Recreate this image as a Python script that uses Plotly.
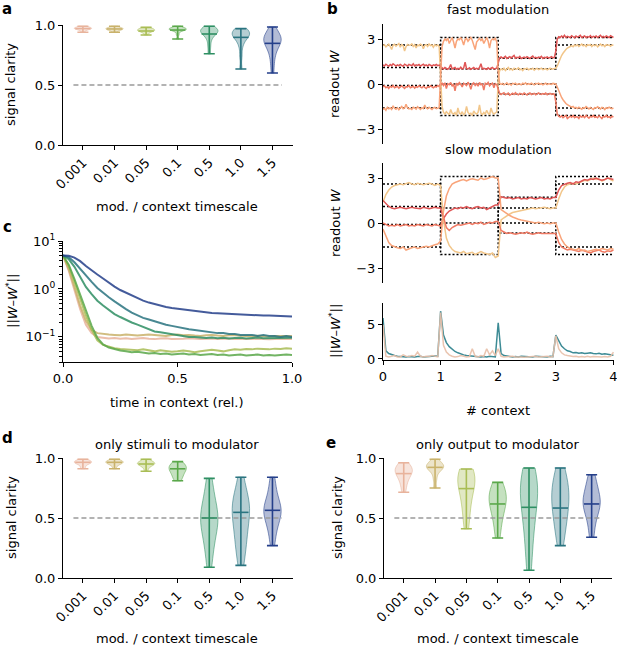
import numpy as np
import plotly.graph_objects as go

W, H = 617, 646

timescales = ['0.001', '0.01', '0.05', '0.1', '0.5', '1.0', '1.5']
ts_colors = ['#e8b39c', '#c9b26b', '#a9bd55', '#5aa84a', '#2e8f63', '#2a7480', '#243f8a']
chance = 0.5

# --- panel a: signal clarity, full model (samples)
clar_a = [
    [0.94, 0.955, 0.96, 0.965, 0.97, 0.97, 0.972, 0.975, 0.978, 0.98, 0.985, 0.99],
    [0.94, 0.952, 0.958, 0.962, 0.965, 0.968, 0.97, 0.973, 0.977, 0.982, 0.99],
    [0.917, 0.935, 0.945, 0.95, 0.953, 0.956, 0.96, 0.963, 0.968, 0.975, 0.98],
    [0.883, 0.92, 0.945, 0.955, 0.96, 0.962, 0.965, 0.968, 0.97, 0.975, 0.98, 0.99],
    [0.76, 0.82, 0.87, 0.9, 0.92, 0.93, 0.94, 0.945, 0.95, 0.955, 0.96, 0.97, 0.98, 0.99],
    [0.633, 0.74, 0.82, 0.86, 0.89, 0.9, 0.91, 0.92, 0.93, 0.935, 0.94, 0.95, 0.96, 0.97],
    [0.60, 0.68, 0.74, 0.78, 0.81, 0.83, 0.85, 0.86, 0.87, 0.88, 0.89, 0.9, 0.91, 0.93, 0.95, 0.983],
]
mid_a = [0.97, 0.967, 0.95, 0.958, 0.925, 0.897, 0.847]

# --- panel d: only stimuli to modulator
clar_d = [
    [0.91, 0.93, 0.95, 0.955, 0.96, 0.965, 0.97, 0.975, 0.98, 0.99],
    [0.91, 0.935, 0.95, 0.955, 0.96, 0.965, 0.97, 0.975, 0.98, 0.99],
    [0.89, 0.92, 0.935, 0.945, 0.95, 0.955, 0.96, 0.965, 0.975, 0.99],
    [0.81, 0.83, 0.85, 0.87, 0.89, 0.9, 0.91, 0.92, 0.93, 0.94, 0.95, 0.97],
    [0.09, 0.2, 0.28, 0.35, 0.4, 0.44, 0.48, 0.5, 0.52, 0.56, 0.6, 0.66, 0.74, 0.83],
    [0.105, 0.2, 0.28, 0.33, 0.38, 0.45, 0.52, 0.55, 0.58, 0.6, 0.62, 0.66, 0.72, 0.84],
    [0.27, 0.36, 0.42, 0.47, 0.5, 0.53, 0.55, 0.57, 0.59, 0.61, 0.64, 0.7, 0.76, 0.84],
]
mid_d = [0.964, 0.964, 0.95, 0.91, 0.5, 0.547, 0.564]

# --- panel e: only output to modulator
clar_e = [
    [0.714, 0.77, 0.81, 0.84, 0.86, 0.88, 0.89, 0.9, 0.91, 0.92, 0.94, 0.96],
    [0.75, 0.82, 0.87, 0.9, 0.91, 0.92, 0.93, 0.935, 0.94, 0.95, 0.97, 0.99],
    [0.41, 0.5, 0.58, 0.64, 0.7, 0.74, 0.78, 0.81, 0.83, 0.85, 0.87, 0.89, 0.908],
    [0.333, 0.42, 0.5, 0.55, 0.59, 0.62, 0.65, 0.68, 0.7, 0.72, 0.75, 0.797],
    [0.064, 0.2, 0.33, 0.43, 0.5, 0.57, 0.63, 0.68, 0.72, 0.76, 0.8, 0.84, 0.88, 0.917],
    [0.27, 0.36, 0.44, 0.5, 0.55, 0.6, 0.64, 0.68, 0.72, 0.76, 0.8, 0.86, 0.917],
    [0.34, 0.44, 0.52, 0.57, 0.6, 0.62, 0.64, 0.66, 0.7, 0.75, 0.8, 0.86],
]
mid_e = [0.87, 0.922, 0.745, 0.617, 0.589, 0.583, 0.617]

# --- panel b: readout weights over 4 contexts
w_colors = ['#f2c68a', '#e05656', '#f07a64', '#f9a47a']  # tan, red, coral, salmon
ctx_edges = [0, 1, 2, 3, 4]
targets = [
    [2.6, -2.1, 1.0, 2.6, 2.6],
    [1.1, 1.0, 1.72, 3.1, 3.1],
    [-0.1, 0.0, -0.67, -2.1, -2.1],
    [-1.6, 3.1, 0.0, -1.6, -1.6],
]

# fast modulation, sampled every 1/40 context
fast_t = np.linspace(0, 4, 161)
fast_w = [
    [2.55, 2.62, 2.48, 2.6, 2.66, 2.5, 2.3, 2.58, 2.65, 2.52,
     2.6, 2.7, 2.45, 2.62, 2.55, 2.2, 2.5, 2.64, 2.58, 2.6,
     2.68, 2.5, 2.62, 2.4, 2.6, 2.55, 2.66, 2.6, 2.35, 2.58,
     2.62, 2.5, 2.66, 2.56, 2.6, 2.45, 2.62, 2.55, 2.6, 2.5,
     0.5, -1.5, -1.9, -2.0, -1.85, -1.95, -2.05, -1.7, -1.95, -2.0,
     -1.9, -2.1, -1.6, -1.95, -2.0, -1.85, -2.05, -1.95, -1.5, -1.9,
     -2.0, -1.95, -2.1, -1.8, -1.95, -2.0, -1.9, -1.4, -1.95, -2.05,
     -1.9, -2.0, -1.75, -1.95, -2.05, -1.6, -1.9, -2.0, -1.95, -1.85,
     0.3, 0.9, 1.0, 0.95, 1.05, 0.9, 1.0, 1.1, 0.95, 1.0,
     0.92, 1.05, 0.98, 1.0, 1.08, 0.95, 1.0, 0.9, 1.02, 1.0,
     1.06, 0.95, 1.0, 0.98, 1.05, 0.92, 1.0, 1.04, 0.96, 1.0,
     1.05, 0.95, 1.0, 1.02, 0.94, 1.0, 1.05, 0.98, 1.0, 1.02,
     1.05, 1.2, 1.45, 1.7, 1.9, 2.05, 2.2, 2.3, 2.4, 2.45,
     2.5, 2.55, 2.48, 2.6, 2.55, 2.62, 2.5, 2.6, 2.66, 2.55,
     2.6, 2.5, 2.62, 2.58, 2.64, 2.5, 2.6, 2.56, 2.62, 2.48,
     2.6, 2.66, 2.55, 2.6, 2.5, 2.62, 2.58, 2.6, 2.52, 2.6,
     2.58],
    [1.28, 1.2, 1.32, 1.25, 1.18, 1.3, 1.22, 1.35, 1.25, 1.2,
     1.28, 1.22, 1.3, 1.26, 1.18, 1.32, 1.24, 1.2, 1.3, 1.25,
     1.22, 1.35, 1.2, 1.28, 1.24, 1.3, 1.2, 1.26, 1.32, 1.22,
     1.28, 1.2, 1.3, 1.25, 1.2, 1.28, 1.24, 1.3, 1.22, 1.26,
     1.15, 1.05, 1.0, 1.1, 1.02, 0.98, 1.08, 1.3, 1.0, 1.05,
     1.1, 0.98, 1.04, 1.0, 1.12, 1.0, 1.06, 1.45, 1.02, 1.0,
     1.08, 0.98, 1.05, 1.1, 1.0, 1.04, 1.0, 1.1, 1.35, 1.0,
     1.05, 1.02, 0.98, 1.08, 1.0, 1.05, 1.1, 1.0, 1.04, 1.06,
     1.4, 1.75, 1.8, 1.72, 1.78, 1.85, 1.7, 1.76, 1.82, 1.74,
     1.8, 1.9, 1.72, 1.78, 1.75, 1.84, 1.7, 1.78, 1.8, 1.74,
     1.82, 1.76, 1.7, 1.8, 1.86, 1.74, 1.78, 1.72, 1.8, 1.76,
     1.84, 1.7, 1.78, 1.75, 1.8, 1.72, 1.78, 1.82, 1.74, 1.78,
     2.2, 3.0, 3.15, 3.1, 3.2, 3.12, 3.25, 3.1, 3.18, 3.14,
     3.1, 3.22, 3.15, 3.08, 3.2, 3.12, 3.18, 3.25, 3.1, 3.15,
     3.2, 3.1, 3.16, 3.12, 3.22, 3.1, 3.18, 3.14, 3.2, 3.1,
     3.16, 3.24, 3.12, 3.18, 3.1, 3.2, 3.15, 3.1, 3.22, 3.14,
     3.1],
    [-0.2, -0.12, -0.25, -0.18, -0.3, -0.15, -0.22, -0.1, -0.25, -0.2,
     -0.15, -0.28, -0.2, -0.12, -0.22, -0.3, -0.18, -0.2, -0.1, -0.25,
     -0.2, -0.15, -0.28, -0.18, -0.22, -0.12, -0.2, -0.26, -0.15, -0.2,
     -0.3, -0.18, -0.22, -0.12, -0.2, -0.25, -0.16, -0.2, -0.1, -0.18,
     -0.05, 0.05, -0.1, 0.08, -0.3, 0.02, -0.05, 0.1, -0.15, 0.0,
     -0.45, 0.05, -0.08, 0.1, -0.02, -0.2, 0.05, 0.0, -0.1, 0.12,
     -0.05, -0.35, 0.0, 0.08, -0.1, 0.02, -0.15, 0.1, -0.05, 0.0,
     -0.4, 0.05, -0.02, 0.1, -0.12, 0.0, 0.06, -0.25, 0.02, -0.05,
     -0.4, -0.62, -0.7, -0.66, -0.58, -0.72, -0.65, -0.6, -0.75, -0.66,
     -0.62, -0.7, -0.58, -0.68, -0.72, -0.62, -0.66, -0.7, -0.6, -0.68,
     -0.74, -0.64, -0.6, -0.7, -0.66, -0.62, -0.72, -0.68, -0.6, -0.66,
     -0.7, -0.64, -0.68, -0.6, -0.72, -0.66, -0.62, -0.7, -0.66, -0.68,
     -1.2, -2.0, -2.15, -2.2, -2.12, -2.25, -2.18, -2.1, -2.3, -2.2,
     -2.15, -2.22, -2.1, -2.25, -2.18, -2.2, -2.3, -2.12, -2.2, -2.15,
     -2.24, -2.1, -2.2, -2.28, -2.16, -2.2, -2.1, -2.22, -2.18, -2.25,
     -2.12, -2.2, -2.3, -2.16, -2.2, -2.1, -2.22, -2.18, -2.26, -2.15,
     -2.2],
    [-1.7, -1.62, -1.75, -1.55, -1.65, -1.6, -1.7, -1.45, -1.62, -1.68,
     -1.58, -1.72, -1.6, -1.5, -1.65, -1.6, -1.35, -1.58, -1.66, -1.62,
     -1.7, -1.55, -1.6, -1.68, -1.52, -1.62, -1.7, -1.58, -1.64, -1.4,
     -1.6, -1.66, -1.55, -1.62, -1.7, -1.6, -1.56, -1.65, -1.6, -1.58,
     0.5, 2.5, 2.85, 3.0, 2.9, 3.05, 2.7, 2.95, 3.1, 2.8,
     2.4, 2.85, 3.0, 2.95, 3.1, 2.9, 2.6, 2.95, 3.05, 2.85,
     3.0, 3.1, 2.9, 2.5, 2.3, 2.8, 2.95, 3.05, 2.9, 3.0,
     2.7, 2.95, 3.1, 2.85, 2.4, 2.9, 3.0, 2.95, 3.05, 2.8,
     0.8, 0.05, -0.02, 0.04, -0.06, 0.0, 0.08, -0.04, 0.02, -0.08,
     0.04, 0.0, 0.06, -0.05, 0.02, 0.0, -0.06, 0.05, 0.0, 0.08,
     -0.04, 0.02, -0.02, 0.05, 0.0, -0.06, 0.04, 0.0, 0.06, -0.02,
     0.02, -0.05, 0.0, 0.06, -0.04, 0.02, 0.0, -0.03, 0.04, 0.0,
     0.0, -0.2, -0.45, -0.7, -0.9, -1.05, -1.2, -1.3, -1.38, -1.45,
     -1.5, -1.55, -1.5, -1.6, -1.56, -1.64, -1.55, -1.6, -1.68, -1.58,
     -1.62, -1.5, -1.6, -1.66, -1.56, -1.62, -1.7, -1.58, -1.6, -1.52,
     -1.62, -1.66, -1.56, -1.6, -1.7, -1.58, -1.62, -1.55, -1.6, -1.65,
     -1.6],
]

# slow modulation and the error norm, sampled every 1/20 context
ctx_t = np.linspace(0, 4, 81)
slow_w = [
    [1.4, 1.9, 2.2, 2.4, 2.5, 2.55, 2.6, 2.55, 2.6, 2.7, 2.6, 2.55, 2.65, 2.6, 2.55, 2.6, 2.65, 2.6, 2.5, 2.6,
     2.5, 0.2, -1.0, -1.5, -1.75, -1.9, -1.95, -2.0, -1.9, -2.05, -2.0, -1.95, -2.1, -2.0, -1.9, -2.0, -2.05, -2.1, -2.0, -2.3,
     -2.2, 0.2, 0.35, 0.5, 0.6, 0.7, 0.75, 0.8, 0.85, 0.9, 0.9, 0.95, 1.0, 0.95, 1.0, 1.0, 1.05, 1.0, 0.95, 1.0,
     1.0, 1.6, 2.1, 2.4, 2.55, 2.6, 2.65, 2.6, 2.7, 2.75, 2.85, 2.8, 2.9, 3.0, 2.9, 2.95, 2.8, 2.9, 3.0, 2.9, 2.8],
    [1.5, 1.3, 1.1, 1.0, 0.95, 1.0, 1.05, 1.0, 0.95, 1.0, 1.05, 1.0, 1.0, 0.95, 1.05, 1.0, 0.95, 1.0, 1.05, 1.0,
     1.0, 0.3, 0.6, 0.8, 0.9, 1.0, 0.95, 1.05, 1.0, 1.1, 1.0, 0.95, 1.05, 1.1, 1.0, 1.05, 0.9, 1.0, 1.1, 1.2,
     1.2, 1.75, 1.7, 1.65, 1.7, 1.6, 1.65, 1.7, 1.6, 1.65, 1.6, 1.7, 1.65, 1.6, 1.65, 1.7, 1.6, 1.65, 1.6, 1.7,
     1.7, 2.2, 2.5, 2.6, 2.65, 2.7, 2.6, 2.75, 2.7, 2.8, 2.9, 2.85, 2.95, 2.9, 3.0, 2.9, 2.85, 2.9, 3.0, 2.95, 2.9],
    [0.0, -0.1, -0.2, -0.15, -0.2, -0.1, -0.2, -0.15, -0.1, -0.2, -0.15, -0.2, -0.1, -0.15, -0.2, -0.1, -0.15, -0.2, -0.1, -0.15,
     -0.2, 0.4, -0.3, -0.5, -0.3, -0.2, -0.1, -0.15, -0.1, -0.05, 0.0, -0.1, 0.0, -0.05, 0.05, -0.1, 0.0, 0.05, 0.0, 0.1,
     0.1, -0.5, -0.6, -0.7, -0.65, -0.7, -0.75, -0.7, -0.65, -0.7, -0.6, -0.7, -0.75, -0.7, -0.65, -0.7, -0.7, -0.65, -0.7, -0.7,
     -0.7, -1.3, -1.6, -1.7, -1.8, -1.75, -1.8, -1.85, -1.9, -1.8, -1.85, -1.95, -2.0, -1.9, -1.85, -1.8, -1.9, -1.95, -1.85, -1.9, -1.8],
    [-0.4, -0.9, -1.3, -1.5, -1.6, -1.65, -1.7, -1.6, -1.8, -1.7, -1.65, -1.6, -1.7, -1.65, -1.6, -1.55, -1.6, -1.5, -1.45, -1.4,
     -1.2, 0.8, 1.8, 2.3, 2.6, 2.7, 2.8, 2.85, 2.9, 2.8, 2.9, 2.95, 2.9, 2.85, 3.0, 2.9, 2.95, 3.0, 3.1, 3.0,
     3.0, 0.9, 0.75, 0.6, 0.5, 0.4, 0.3, 0.25, 0.2, 0.15, 0.1, 0.1, 0.05, 0.0, 0.05, 0.0, -0.05, 0.0, -0.05, 0.0,
     0.0, -0.6, -1.1, -1.4, -1.6, -1.7, -1.75, -1.8, -1.7, -1.85, -1.8, -1.9, -1.85, -1.8, -1.75, -1.8, -1.7, -1.75, -1.8, -1.7, -1.75],
]
err_slow = [6.0, 1.2, 0.8, 0.6, 0.5, 0.4, 0.35, 0.3, 0.3, 0.35, 0.3, 0.3, 0.35, 0.4, 0.3, 0.35, 0.4, 0.5, 0.45, 0.4,
            7.0, 3.5, 2.4, 1.8, 1.4, 1.1, 0.9, 0.7, 0.6, 0.5, 0.45, 0.4, 0.4, 0.35, 0.3, 0.35, 0.3, 0.4, 0.35, 0.3,
            5.3, 0.8, 0.5, 0.4, 0.35, 0.3, 0.35, 0.3, 0.4, 0.35, 0.3, 0.35, 0.3, 0.4, 0.35, 0.3, 0.35, 0.3, 0.4, 0.35,
            3.5, 2.6, 1.9, 1.5, 1.2, 1.1, 0.9, 0.95, 0.85, 0.9, 0.8, 0.85, 0.9, 0.8, 0.75, 0.85, 0.7, 0.75, 0.65, 0.6, 0.55]
err_fast = [5.0, 0.4, 0.3, 0.35, 0.5, 0.3, 0.3, 0.6, 0.4, 0.35, 0.5, 0.4, 1.0, 0.4, 0.3, 0.4, 0.35, 0.5, 0.4, 0.3,
            6.8, 2.0, 1.0, 0.6, 0.4, 0.3, 0.35, 0.5, 0.4, 0.3, 0.35, 1.5, 0.4, 0.3, 0.5, 0.4, 1.5, 0.6, 1.2, 0.5,
            1.5, 0.4, 0.3, 0.35, 0.3, 0.4, 0.3, 0.35, 0.3, 0.25, 0.3, 0.35, 0.3, 0.4, 0.3, 0.35, 0.3, 0.4, 0.3, 0.35,
            3.4, 1.5, 0.9, 0.6, 0.5, 0.4, 0.35, 0.4, 0.3, 0.35, 0.3, 0.4, 0.3, 0.35, 0.3, 0.25, 0.3, 0.35, 0.3, 0.4, 1.0]

# --- panel c: distance to target within a context, per timescale
rel_t = np.linspace(0, 1, 41)
dist_c = [
    [5.0, 2.4, 0.95, 0.38, 0.18, 0.12, 0.1, 0.095, 0.093, 0.095, 0.092, 0.094, 0.091, 0.093, 0.095, 0.092, 0.09, 0.093, 0.094, 0.091,
     0.09, 0.092, 0.094, 0.091, 0.09, 0.092, 0.093, 0.09, 0.091, 0.093, 0.09, 0.089, 0.091, 0.09, 0.092, 0.09, 0.089, 0.09, 0.091, 0.089, 0.09],
    [5.0, 2.6, 1.1, 0.45, 0.22, 0.14, 0.12, 0.115, 0.112, 0.11, 0.108, 0.112, 0.11, 0.107, 0.11, 0.113, 0.11, 0.108, 0.105, 0.11,
     0.112, 0.108, 0.11, 0.107, 0.105, 0.108, 0.11, 0.107, 0.105, 0.108, 0.11, 0.106, 0.105, 0.103, 0.106, 0.104, 0.102, 0.104, 0.105, 0.103, 0.104],
    [5.0, 3.0, 1.4, 0.62, 0.28, 0.14, 0.085, 0.068, 0.062, 0.058, 0.056, 0.055, 0.054, 0.053, 0.055, 0.052, 0.05, 0.053, 0.051, 0.049,
     0.05, 0.052, 0.05, 0.048, 0.05, 0.052, 0.054, 0.052, 0.05, 0.053, 0.055, 0.054, 0.056, 0.055, 0.057, 0.056, 0.055, 0.057, 0.056, 0.058, 0.057],
    [5.0, 3.2, 1.6, 0.75, 0.35, 0.17, 0.095, 0.07, 0.06, 0.055, 0.052, 0.05, 0.048, 0.049, 0.047, 0.045, 0.046, 0.044, 0.045, 0.043,
     0.044, 0.045, 0.043, 0.044, 0.042, 0.043, 0.044, 0.042, 0.043, 0.041, 0.042, 0.043, 0.041, 0.042, 0.043, 0.041, 0.042, 0.041, 0.042, 0.043, 0.042],
    [5.0, 4.2, 2.9, 1.8, 1.1, 0.78, 0.57, 0.45, 0.36, 0.30, 0.26, 0.225, 0.20, 0.18, 0.16, 0.145, 0.13, 0.125, 0.12, 0.115,
     0.11, 0.105, 0.10, 0.10, 0.098, 0.095, 0.097, 0.094, 0.096, 0.093, 0.095, 0.096, 0.093, 0.095, 0.097, 0.094, 0.095, 0.096, 0.094, 0.095, 0.096],
    [5.0, 4.6, 3.6, 2.6, 1.9, 1.4, 1.05, 0.82, 0.67, 0.55, 0.45, 0.38, 0.32, 0.28, 0.25, 0.23, 0.21, 0.19, 0.18, 0.17,
     0.16, 0.15, 0.145, 0.14, 0.135, 0.13, 0.125, 0.12, 0.12, 0.115, 0.115, 0.11, 0.11, 0.11, 0.105, 0.11, 0.105, 0.105, 0.10, 0.105, 0.10],
    [5.0, 4.9, 4.5, 3.8, 3.0, 2.5, 2.0, 1.65, 1.35, 1.12, 0.95, 0.83, 0.72, 0.64, 0.57, 0.52, 0.48, 0.45, 0.42, 0.40,
     0.385, 0.37, 0.355, 0.345, 0.335, 0.325, 0.315, 0.31, 0.305, 0.30, 0.30, 0.295, 0.29, 0.29, 0.285, 0.28, 0.28, 0.275, 0.27, 0.27, 0.265],
]


def rgba(hx, a):
    h = hx.lstrip('#')
    return 'rgba(%d,%d,%d,%.2f)' % (int(h[0:2], 16), int(h[2:4], 16), int(h[4:6], 16), a)


def px_x(a, b):
    return [a / W, b / W]


def px_y(top, bottom):
    return [1 - bottom / H, 1 - top / H]


fig = go.Figure()


def add_violins(samples, mids, n):
    xa, ya = 'x%d' % n if n > 1 else 'x', 'y%d' % n if n > 1 else 'y'
    fig.add_trace(go.Scatter(x=[-0.3, len(timescales) - 0.7], y=[chance, chance], mode='lines',
                             line=dict(color='#9a9a9a', width=1.5, dash='5px,3px'),
                             xaxis=xa, yaxis=ya, showlegend=False, hoverinfo='skip'))
    for i, (s, m, col) in enumerate(zip(samples, mids, ts_colors)):
        fig.add_trace(go.Violin(x=[i] * len(s), y=s, width=0.55, spanmode='hard', points=False,
                                fillcolor=rgba(col, 0.35), line=dict(color=rgba(col, 0.55), width=1),
                                xaxis=xa, yaxis=ya, showlegend=False, hoverinfo='skip'))
        lo, hi = min(s), max(s)
        fig.add_trace(go.Scatter(x=[i], y=[m], mode='markers',
                                 marker=dict(symbol='line-ew', size=11, color=col, line=dict(color=col, width=1.6)),
                                 error_y=dict(type='data', symmetric=False, array=[hi - m], arrayminus=[m - lo],
                                              width=5.5, thickness=1.6, color=col),
                                 xaxis=xa, yaxis=ya, showlegend=False, hoverinfo='skip'))


add_violins(clar_a, mid_a, 1)
add_violins(clar_d, mid_d, 6)
add_violins(clar_e, mid_e, 7)

# panel b, fast and slow
for n, tt, series in ((2, fast_t, fast_w), (3, ctx_t, slow_w)):
    for tg in targets:
        fig.add_trace(go.Scatter(x=ctx_edges, y=tg, mode='lines', line=dict(color='black', width=1.5, dash='2px,2px', shape='hv'),
                                 xaxis='x%d' % n, yaxis='y%d' % n, showlegend=False, hoverinfo='skip'))
    for ys, col in zip(series, w_colors):
        fig.add_trace(go.Scatter(x=tt, y=ys, mode='lines', line=dict(color=col, width=1.5),
                                 xaxis='x%d' % n, yaxis='y%d' % n, showlegend=False, hoverinfo='skip'))

fig.add_trace(go.Scatter(x=ctx_t, y=err_slow, mode='lines', line=dict(color='#3d8b95', width=1.5),
                         xaxis='x4', yaxis='y4', showlegend=False))
fig.add_trace(go.Scatter(x=ctx_t, y=err_fast, mode='lines', line=dict(color='#e8bfa8', width=1.5), opacity=0.9,
                         xaxis='x4', yaxis='y4', showlegend=False))

# panel c
for ys, col in zip(dist_c, ts_colors):
    fig.add_trace(go.Scatter(x=rel_t, y=ys, mode='lines', line=dict(color=col, width=2), opacity=0.85,
                             xaxis='x5', yaxis='y5', showlegend=False))

ax = dict(showline=True, linecolor='black', linewidth=1.1, ticks='outside', ticklen=4, tickwidth=1.1,
          tickcolor='black', showgrid=False, zeroline=False, automargin=False,
          tickfont=dict(size=13, color='black'))
cat_x = dict(ax, range=[-0.63, 6.65], tickvals=list(range(len(timescales))), ticktext=timescales, tickangle=-45)
clar_y = dict(ax, range=[0, 1.0], tickvals=[0, 0.5, 1.0], ticktext=['0.0', '0.5', '1.0'])
w_y = dict(ax, range=[-4, 4], tickvals=[-3, 0, 3], ticktext=['−3', '0', '3'])
ctx_x = dict(ax, range=[0, 4.01], tickvals=ctx_edges, ticklabeloverflow='allow')
hidden_x = dict(range=[0, 4.01], visible=False)

minor_vals = [m * 10.0 ** e for e in (-2, -1, 0) for m in range(2, 10) if 0.03 <= m * 10.0 ** e <= 10]

fig.update_layout(
    width=W, height=H, margin=dict(l=0, r=0, t=0, b=0), template='none',
    paper_bgcolor='white', plot_bgcolor='white',
    font=dict(family='DejaVu Sans', size=13, color='black'),
    violinmode='overlay',
    xaxis=dict(cat_x, domain=px_x(63, 293), anchor='y'),
    yaxis=dict(clar_y, domain=px_y(25, 145), anchor='x'),
    xaxis2=dict(hidden_x, domain=px_x(383, 614), anchor='y2'),
    yaxis2=dict(w_y, domain=px_y(24, 144), anchor='x2'),
    xaxis3=dict(hidden_x, domain=px_x(383, 614), anchor='y3'),
    yaxis3=dict(w_y, domain=px_y(163, 283), anchor='x3'),
    xaxis4=dict(ctx_x, domain=px_x(383, 614), anchor='y4'),
    yaxis4=dict(ax, range=[-0.15, 8.2], tickvals=[0, 5], domain=px_y(303, 360), anchor='x4'),
    xaxis5=dict(ax, range=[0, 1], tickvals=[0, 0.5, 1], ticktext=['0.0', '0.5', '1.0'], domain=px_x(63, 292), anchor='y5'),
    yaxis5=dict(ax, type='log', range=[np.log10(0.03), 1], tickvals=[0.1, 1, 10],
                ticktext=['10<sup>−1</sup>', '10<sup>0</sup>', '10<sup>1</sup>'],
                minor=dict(tickvals=minor_vals, ticks='outside', ticklen=2.5, tickwidth=0.8, tickcolor='black'),
                domain=px_y(241, 362), anchor='x5'),
    xaxis6=dict(cat_x, domain=px_x(63, 293), anchor='y6'),
    yaxis6=dict(clar_y, domain=px_y(458, 578), anchor='x6'),
    xaxis7=dict(cat_x, domain=px_x(384, 612), anchor='y7'),
    yaxis7=dict(clar_y, domain=px_y(458, 578), anchor='x7'),
)


def label(text, x, y, size=13, bold=False, angle=0):
    fig.add_annotation(text='<b>%s</b>' % text if bold else text, x=x / W, y=1 - y / H, xref='paper', yref='paper',
                       showarrow=False, textangle=angle, font=dict(size=size, color='black'),
                       xanchor='center', yanchor='middle')


label('a', 7, 9, 15, True)
label('b', 332, 9, 15, True)
label('c', 7, 227, 15, True)
label('d', 7, 438, 15, True)
label('e', 331, 443, 15, True)
label('fast modulation', 498, 10)
label('slow modulation', 498, 149)
label('only stimuli to modulator', 177, 444)
label('only output to modulator', 498, 444)
label('signal clarity', 11, 85, angle=-90)
label('signal clarity', 11, 518, angle=-90)
label('signal clarity', 337, 518, angle=-90)
label('readout <i>W</i>', 335, 84, angle=-90)
label('readout <i>W</i>', 335, 223, angle=-90)
label('||<i>W</i>–<i>W</i><sup>*</sup>||', 335, 331, angle=-90)
label('||<i>W</i>–<i>W</i><sup>*</sup>||', 12, 301, angle=-90)
label('mod. / context timescale', 177, 207)
label('mod. / context timescale', 177, 638)
label('mod. / context timescale', 498, 638)
label('time in context (rel.)', 177, 402)
label('# context', 498, 410)

# page body has a default 8px margin; drop it so the figure fills the window
fig.write_html("out.html", config={'displayModeBar': False},
               post_script="document.body.style.margin='0px';")
